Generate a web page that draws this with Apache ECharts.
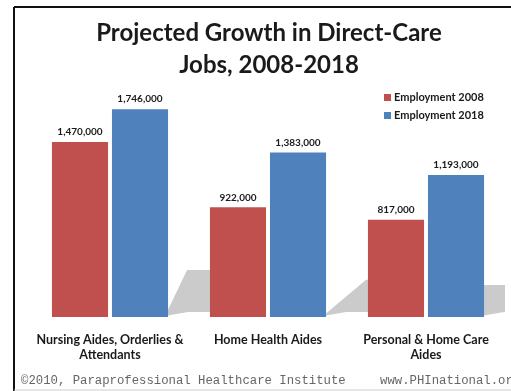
<!DOCTYPE html>
<html>
<head>
<meta charset="utf-8">
<script src="https://cdn.jsdelivr.net/npm/echarts@6/dist/echarts.min.js"></script>
<style>
html,body{margin:0;padding:0;background:#fff;}
#chart{width:511px;height:391px;}
</style>
</head>
<body>
<div id="chart"></div>
<script>
const titleLines = ['Projected Growth in Direct-Care', 'Jobs, 2008-2018'];
const categories = ['Nursing Aides, Orderlies &\nAttendants', 'Home Health Aides', 'Personal & Home Care\nAides'];
const seriesNames = ['Employment 2008', 'Employment 2018'];
const employment2008 = [1470000, 922000, 817000];
const employment2018 = [1746000, 1383000, 1193000];
const footerLeft = '\u00A92010, Paraprofessional Healthcare Institute';
const footerRight = 'www.PHInational.org';

const RED = '#c0504d', BLUE = '#4f81bd';
const BAR_W = 0.355, BAR_GAP = 0.07;
const SHADOW_SKEW = [19, 40, -4];
const fmt = v => Number(v).toLocaleString('en-US');
const FONT = "Lato, 'Open Sans', sans-serif";

const chart = echarts.init(document.getElementById('chart'), null, {renderer: 'canvas'});

function shadowItem(params, api) {
  const idx = api.value(0), v = api.value(1);
  const base = api.coord([idx, 0]);
  const top = api.coord([idx, v]);
  const band = api.size([1, 0])[0];
  const xR = base[0] + band * (BAR_W * BAR_GAP / 2 + BAR_W);
  const h = (base[1] - top[1]) * 0.226;
  const y0 = base[1];
  const s = SHADOW_SKEW[params.dataIndex];
  return {
    type: 'polygon',
    shape: {points: [[xR - 3, y0 - 1], [xR + s, y0 - h], [xR + 66, y0 - h], [xR + 66, y0 - 5], [xR + 20, y0 - 5]]},
    style: {fill: '#cbcbcb'}
  };
}

chart.setOption({
  animation: false,
  backgroundColor: '#fff',
  title: {
    text: titleLines.join('\n'),
    left: 264, top: 12, textAlign: 'center',
    textStyle: {fontFamily: FONT, fontWeight: 'bold', fontSize: 24, lineHeight: 32, color: '#1a1a1a'}
  },
  legend: {
    data: seriesNames,
    orient: 'vertical', left: 379, top: 87,
    itemWidth: 7, itemHeight: 7, itemGap: 7, icon: 'rect',
    textStyle: {fontFamily: FONT, fontWeight: 'bold', fontSize: 11, color: '#1a1a1a', padding: [0, 0, 0, -2]}
  },
  grid: {left: 31, right: 6, top: 79, bottom: 74},
  xAxis: {
    type: 'category', data: categories,
    axisLine: {show: false}, axisTick: {show: false},
    axisLabel: {interval: 0, margin: 15, fontFamily: FONT, fontWeight: 'bold', fontSize: 12.5, lineHeight: 15, color: '#1a1a1a'}
  },
  yAxis: {type: 'value', min: 0, max: 2000000, show: false, splitLine: {show: false}},
  series: [
    {
      type: 'custom', name: 'shadow', z: 1, clip: true, silent: true,
      renderItem: shadowItem,
      data: employment2018.map((v, i) => [i, v])
    },
    {
      type: 'bar', name: seriesNames[0], data: employment2008, z: 2,
      barWidth: (BAR_W * 100) + '%', barGap: (BAR_GAP * 100) + '%',
      itemStyle: {color: RED},
      label: {show: true, position: 'top', distance: 5, formatter: p => fmt(p.value), fontFamily: FONT, fontWeight: 'bold', fontSize: 10, color: '#1a1a1a'}
    },
    {
      type: 'bar', name: seriesNames[1], data: employment2018, z: 2,
      barWidth: (BAR_W * 100) + '%', barGap: (BAR_GAP * 100) + '%',
      itemStyle: {color: BLUE},
      label: {show: true, position: 'top', distance: 5, formatter: p => fmt(p.value), fontFamily: FONT, fontWeight: 'bold', fontSize: 10, color: '#1a1a1a'}
    }
  ],
  graphic: [
    {type: 'line', shape: {x1: 14, y1: 7, x2: 511, y2: 7}, style: {stroke: '#111', lineWidth: 2}},
    {type: 'line', shape: {x1: 14, y1: 7, x2: 14, y2: 391}, style: {stroke: '#111', lineWidth: 2}},
    {type: 'line', shape: {x1: 14, y1: 390, x2: 511, y2: 390}, style: {stroke: '#ccc', lineWidth: 1}},
    {type: 'text', left: 21, top: 375, style: {text: footerLeft, font: "12.3px 'Liberation Mono', 'DejaVu Sans Mono', monospace", fill: '#666'}},
    {type: 'text', left: 380, top: 375, style: {text: footerRight, font: "12.3px 'Liberation Mono', 'DejaVu Sans Mono', monospace", fill: '#666'}}
  ]
});
</script>
</body>
</html>
